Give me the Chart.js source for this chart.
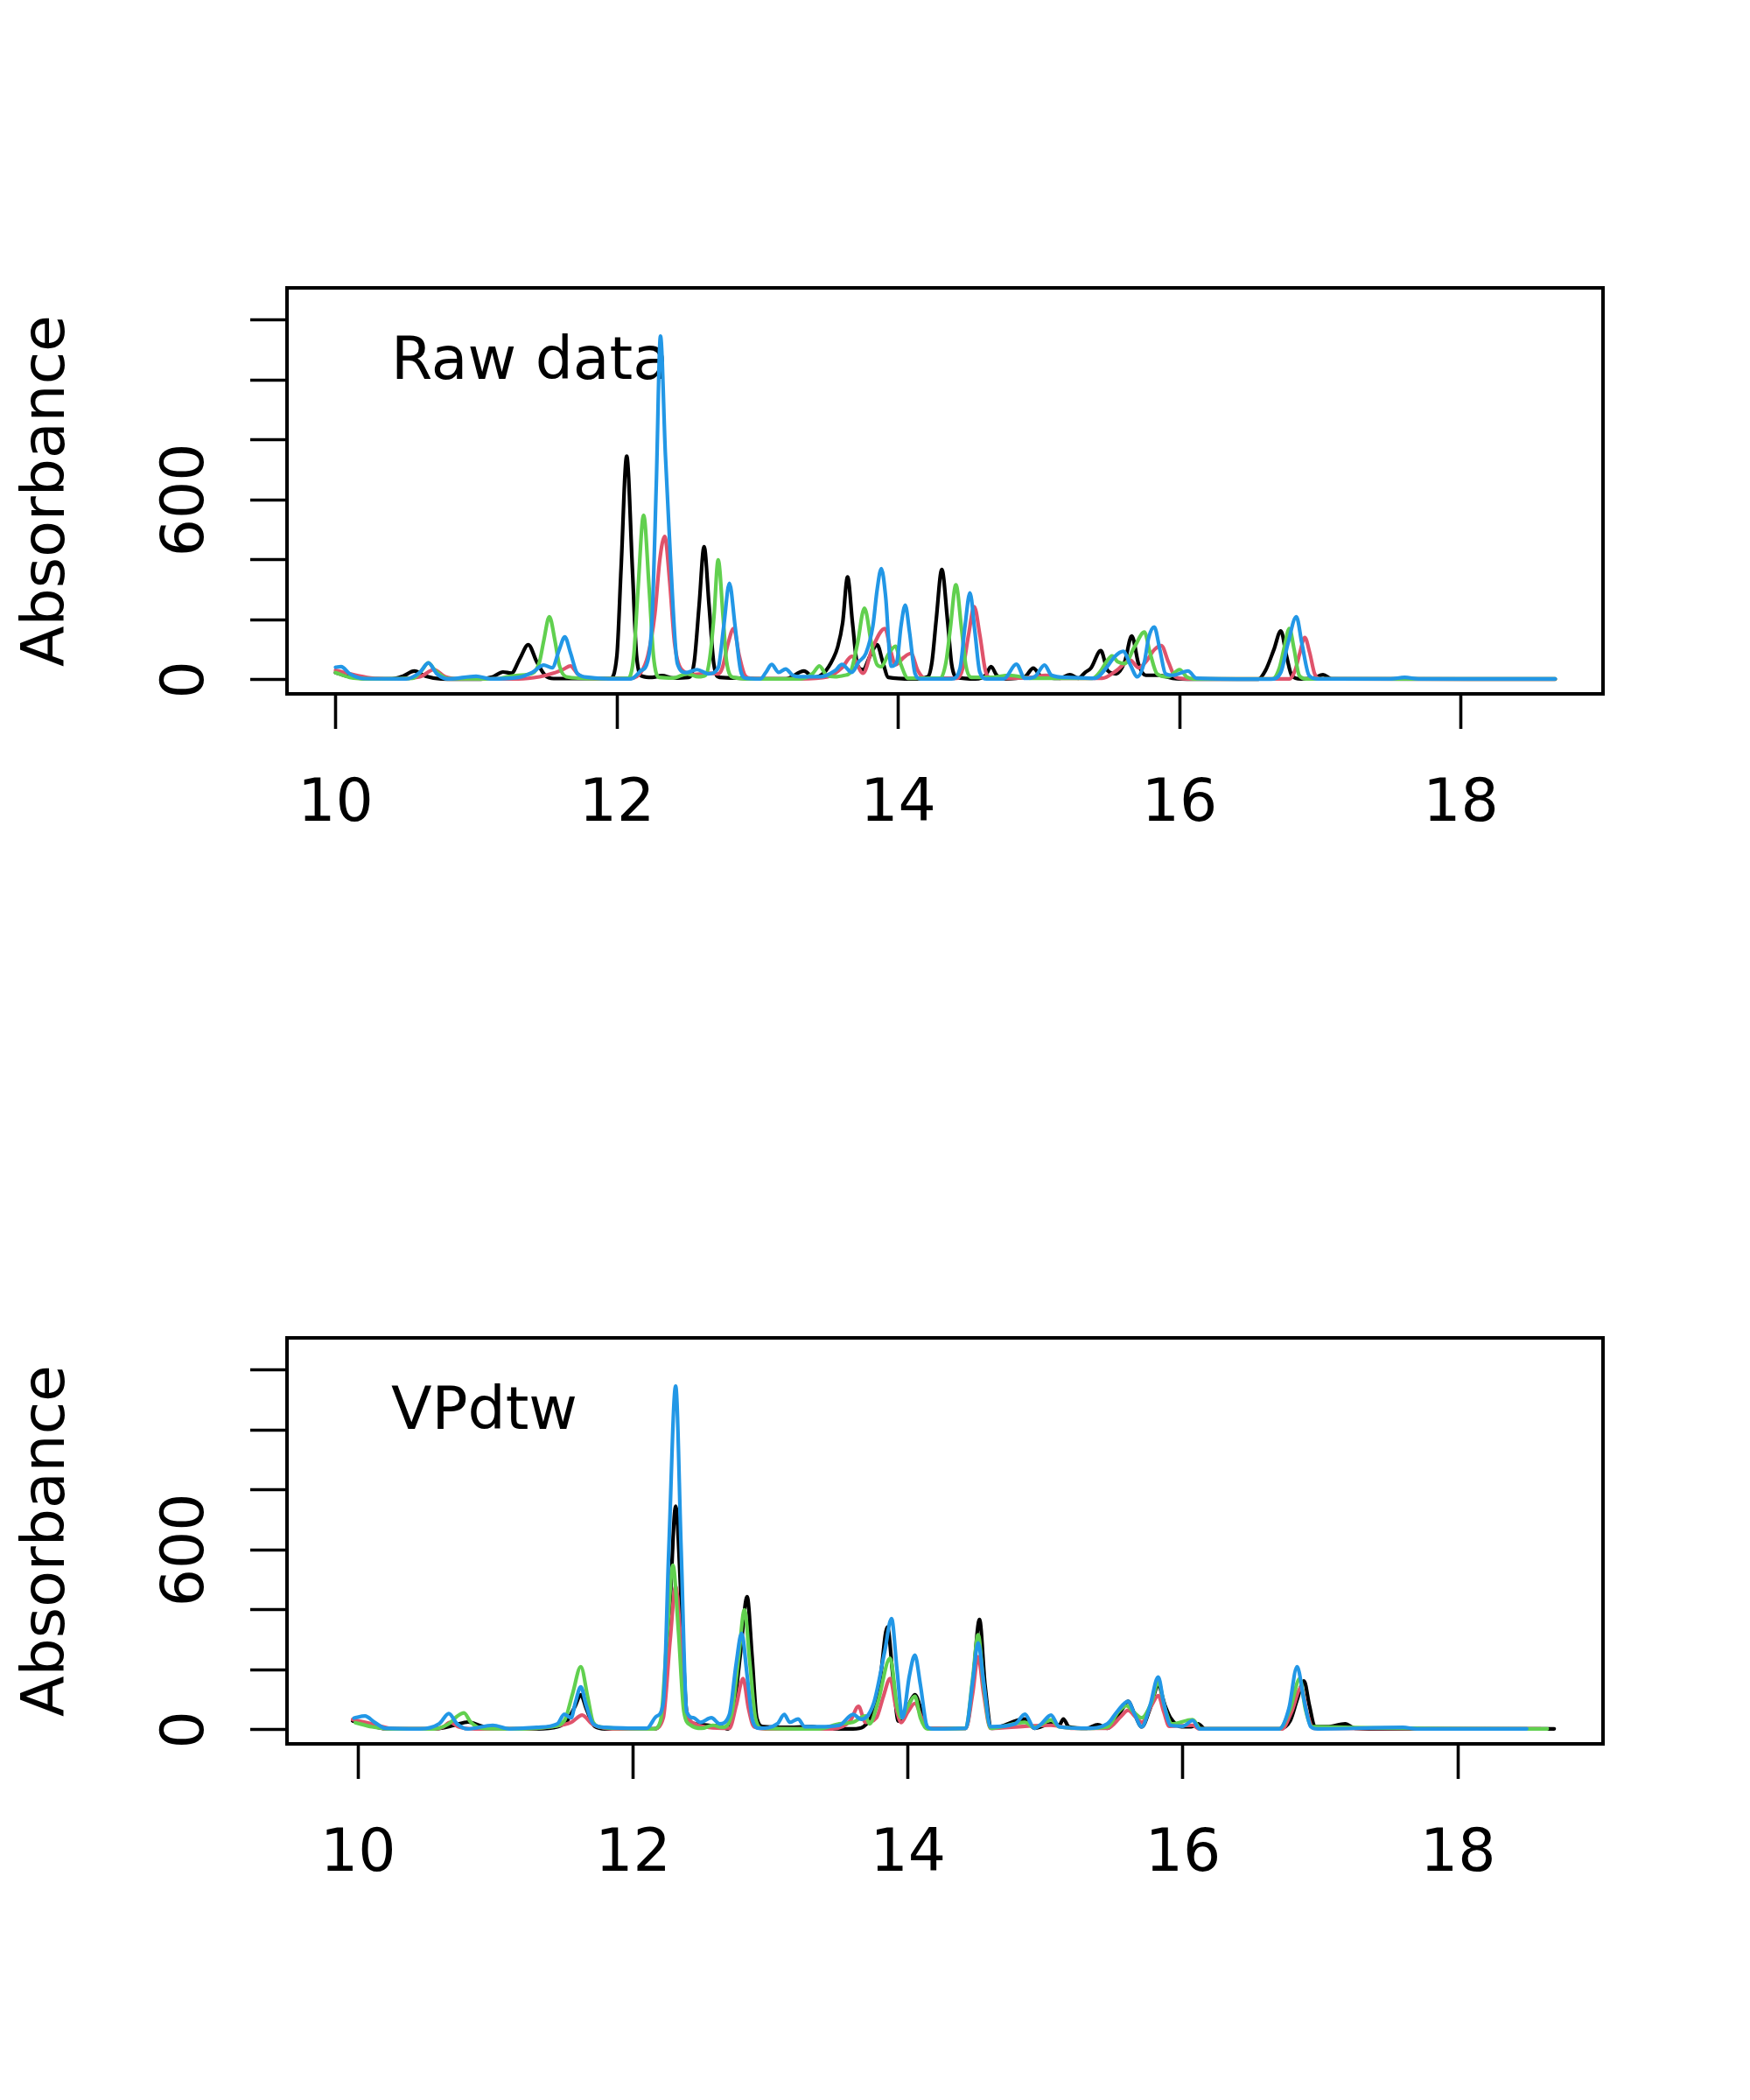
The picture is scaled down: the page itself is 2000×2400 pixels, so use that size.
<!DOCTYPE html>
<html>
<head>
<meta charset="utf-8">
<script src="https://cdn.jsdelivr.net/npm/chart.js@4.4.0/dist/chart.umd.min.js"></script>
<style>
  html, body { margin: 0; padding: 0; background: #fff; }
  #wrap { width: 2000px; height: 2400px; }
  canvas { display: block; }
</style>
</head>
<body>
<div id="wrap">
  <canvas id="rawChart" width="2000" height="1200"></canvas>
  <canvas id="vpdtwChart" width="2000" height="1200"></canvas>
</div>
<script>
// samples, in R palette order (black, red, green, blue)
const sampleNames = ['Sample 1', 'Sample 2', 'Sample 3', 'Sample 4'];
const sampleColors = ['#000000', '#DF536B', '#61D04F', '#2297E6'];
const panelTitles = ['Raw data', 'VPdtw'];
const xTicks = [10, 12, 14, 16, 18];
const yTicks = [0, 200, 400, 600, 800, 1000, 1200];
const yLabelled = [0, 600];
const yLim = [-47, 1307];
const rawXLim = [9.655, 19.01];
const vpdtwXLim = [9.483, 19.055];

// [retention time, absorbance]
const rawBlack = [[10.00,24],[10.08,12],[10.20,4],[10.40,3],[10.48,12],[10.56,29],[10.64,12],[10.75,3],[11.00,2],[11.12,10],[11.19,26],[11.25,22],[11.31,70],[11.37,117],[11.43,60],[11.49,15],[11.55,4],[11.95,4],[12.00,80],[12.03,373],[12.07,746],[12.11,373],[12.14,80],[12.18,12],[12.25,8],[12.32,14],[12.40,6],[12.51,8],[12.55,60],[12.585,250],[12.62,444],[12.655,250],[12.69,50],[12.73,8],[12.85,6],[13.00,3],[13.20,3],[13.33,29],[13.40,8],[13.47,22],[13.54,73],[13.57,110],[13.605,190],[13.64,343],[13.675,190],[13.71,50],[13.75,34],[13.80,80],[13.85,117],[13.89,60],[13.93,8],[14.10,3],[14.21,10],[14.24,60],[14.27,200],[14.31,368],[14.35,200],[14.38,51],[14.42,8],[14.55,3],[14.62,15],[14.66,44],[14.70,15],[14.75,3],[14.90,10],[14.96,39],[15.02,10],[15.15,5],[15.22,17],[15.28,5],[15.33,25],[15.37,39],[15.44,97],[15.49,30],[15.55,20],[15.61,60],[15.66,146],[15.71,50],[15.76,15],[15.85,15],[15.95,5],[16.10,2],[16.56,2],[16.61,30],[16.67,100],[16.72,163],[16.76,80],[16.80,12],[16.86,3],[16.95,5],[17.02,17],[17.08,3],[18.67,2]];
const rawRed = [[10.00,32],[10.10,20],[10.25,6],[10.40,3],[10.60,10],[10.70,34],[10.78,10],[10.90,3],[11.30,3],[11.45,10],[11.55,22],[11.62,35],[11.67,46],[11.72,20],[11.78,6],[12.10,5],[12.17,24],[12.22,80],[12.27,219],[12.305,400],[12.34,478],[12.375,330],[12.41,122],[12.46,34],[12.55,18],[12.65,22],[12.72,20],[12.75,40],[12.79,120],[12.83,171],[12.87,80],[12.91,15],[12.95,5],[13.30,3],[13.50,10],[13.60,40],[13.67,78],[13.75,22],[13.82,110],[13.905,171],[13.95,90],[13.98,50],[14.04,75],[14.09,88],[14.14,30],[14.19,5],[14.42,5],[14.46,40],[14.50,150],[14.54,244],[14.58,150],[14.62,30],[14.66,5],[14.95,8],[15.05,15],[15.15,5],[15.45,5],[15.55,30],[15.65,65],[15.71,40],[15.76,60],[15.82,100],[15.87,114],[15.92,60],[15.97,10],[16.05,3],[16.78,3],[16.82,30],[16.855,90],[16.89,141],[16.925,90],[16.96,20],[17.00,3],[18.67,3]];
const rawGreen = [[10.00,24],[10.10,8],[10.25,3],[10.55,5],[10.61,30],[10.66,56],[10.71,30],[10.80,4],[11.15,3],[11.22,10],[11.30,15],[11.40,22],[11.45,60],[11.48,130],[11.52,210],[11.56,130],[11.59,50],[11.64,10],[11.85,4],[12.08,5],[12.12,80],[12.15,300],[12.19,549],[12.23,300],[12.26,80],[12.30,8],[12.40,6],[12.50,20],[12.58,10],[12.63,15],[12.66,70],[12.69,210],[12.72,400],[12.755,210],[12.78,60],[12.83,8],[12.95,3],[13.30,3],[13.39,20],[13.44,46],[13.49,15],[13.55,10],[13.62,15],[13.66,25],[13.71,120],[13.76,239],[13.81,120],[13.85,50],[13.88,44],[13.93,85],[13.98,112],[14.02,50],[14.07,5],[14.30,5],[14.34,60],[14.37,170],[14.41,317],[14.45,170],[14.48,50],[14.52,8],[14.65,8],[14.79,15],[14.95,5],[15.10,5],[15.38,5],[15.44,30],[15.48,60],[15.52,80],[15.56,60],[15.61,54],[15.68,110],[15.75,159],[15.79,90],[15.84,20],[15.92,10],[16.00,34],[16.05,10],[16.10,3],[16.66,3],[16.71,40],[16.745,110],[16.78,171],[16.815,100],[16.85,15],[16.90,3],[18.67,3]];
const rawBlue = [[10.00,42],[10.04,44],[10.10,20],[10.20,4],[10.50,3],[10.60,25],[10.66,56],[10.72,20],[10.80,3],[11.00,12],[11.10,3],[11.30,8],[11.40,25],[11.48,49],[11.54,40],[11.59,100],[11.63,143],[11.67,90],[11.72,20],[11.80,8],[11.95,3],[12.10,3],[12.17,30],[12.22,63],[12.25,200],[12.28,650],[12.31,1146],[12.345,750],[12.38,414],[12.43,54],[12.49,24],[12.57,34],[12.65,20],[12.72,40],[12.76,180],[12.80,322],[12.84,180],[12.88,30],[12.92,5],[13.02,3],[13.06,25],[13.10,51],[13.15,25],[13.20,36],[13.25,15],[13.30,10],[13.45,10],[13.55,30],[13.60,51],[13.67,25],[13.72,60],[13.77,88],[13.82,180],[13.85,300],[13.88,371],[13.91,280],[13.95,45],[13.99,60],[14.02,180],[14.05,249],[14.08,160],[14.12,20],[14.16,3],[14.38,3],[14.44,40],[14.475,180],[14.51,290],[14.545,160],[14.58,25],[14.63,3],[14.75,3],[14.84,52],[14.90,5],[14.97,10],[15.04,49],[15.09,15],[15.20,8],[15.40,5],[15.48,40],[15.54,78],[15.60,95],[15.65,50],[15.70,10],[15.75,60],[15.78,140],[15.82,176],[15.86,100],[15.90,20],[15.95,15],[16.06,29],[16.12,5],[16.65,2],[16.72,25],[16.77,120],[16.83,210],[16.87,120],[16.92,15],[16.98,3],[17.50,3],[17.60,8],[17.70,3],[18.67,3]];

const vpBlack = [[9.96,30],[10.05,20],[10.20,4],[10.55,3],[10.70,15],[10.80,26],[10.90,12],[11.00,3],[11.30,3],[11.45,10],[11.52,30],[11.58,80],[11.62,117],[11.66,70],[11.72,12],[11.80,3],[12.15,3],[12.22,60],[12.27,430],[12.31,746],[12.35,430],[12.39,60],[12.45,20],[12.55,15],[12.65,10],[12.69,3],[12.73,60],[12.78,250],[12.83,444],[12.865,250],[12.90,40],[12.95,10],[13.10,8],[13.30,10],[13.40,3],[13.60,3],[13.75,60],[13.80,180],[13.85,343],[13.89,180],[13.93,29],[14.00,80],[14.05,117],[14.10,60],[14.15,5],[14.42,5],[14.47,150],[14.52,368],[14.56,150],[14.61,5],[14.85,36],[14.92,5],[15.04,20],[15.10,15],[15.13,36],[15.17,10],[15.30,5],[15.38,17],[15.45,5],[15.52,40],[15.56,70],[15.60,95],[15.65,50],[15.70,10],[15.76,70],[15.82,146],[15.87,80],[15.91,39],[15.99,10],[16.06,10],[16.11,20],[16.16,3],[16.70,3],[16.78,30],[16.83,100],[16.88,163],[16.92,80],[16.96,10],[17.05,10],[17.18,20],[17.25,5],[17.40,3],[18.70,3]];
const vpRed = [[9.96,34],[10.10,20],[10.25,4],[10.55,3],[10.62,10],[10.67,25],[10.73,10],[10.85,3],[11.20,3],[11.40,10],[11.55,25],[11.63,49],[11.70,20],[11.75,10],[11.85,3],[12.15,3],[12.22,40],[12.27,300],[12.31,478],[12.35,280],[12.39,60],[12.45,20],[12.55,8],[12.70,5],[12.75,80],[12.80,171],[12.84,70],[12.88,10],[13.00,3],[13.45,3],[13.58,30],[13.64,78],[13.69,25],[13.77,40],[13.82,110],[13.87,171],[13.91,80],[13.95,24],[14.00,60],[14.05,88],[14.10,40],[14.15,5],[14.42,5],[14.47,120],[14.51,244],[14.55,120],[14.60,5],[14.85,12],[15.04,15],[15.20,5],[15.45,5],[15.55,45],[15.60,65],[15.66,40],[15.70,25],[15.77,80],[15.82,114],[15.86,60],[15.90,12],[16.07,15],[16.12,3],[16.72,3],[16.79,60],[16.86,141],[16.90,60],[16.95,5],[18.60,3]];
const vpGreen = [[9.98,24],[10.10,10],[10.25,3],[10.55,3],[10.66,20],[10.72,45],[10.77,56],[10.82,25],[10.90,5],[11.20,3],[11.40,10],[11.50,30],[11.56,120],[11.62,210],[11.67,110],[11.71,25],[11.78,8],[11.90,5],[12.15,3],[12.20,30],[12.25,330],[12.29,549],[12.33,330],[12.37,60],[12.42,15],[12.50,5],[12.58,15],[12.65,8],[12.72,60],[12.77,250],[12.81,400],[12.85,220],[12.89,40],[12.94,5],[13.35,3],[13.50,20],[13.60,25],[13.69,46],[13.72,20],[13.78,90],[13.87,239],[13.92,80],[13.95,40],[14.00,80],[14.05,112],[14.09,40],[14.14,3],[14.42,5],[14.47,170],[14.51,317],[14.55,150],[14.60,5],[14.85,25],[14.92,8],[15.04,33],[15.10,10],[15.30,5],[15.45,10],[15.53,60],[15.59,80],[15.64,60],[15.70,40],[15.77,90],[15.82,159],[15.87,70],[15.92,20],[16.07,34],[16.13,3],[16.70,3],[16.78,70],[16.85,171],[16.89,70],[16.94,10],[18.65,3]];
const vpBlue = [[9.97,39],[10.05,46],[10.12,25],[10.20,5],[10.45,3],[10.59,20],[10.66,54],[10.72,20],[10.80,3],[10.98,15],[11.10,3],[11.30,8],[11.45,20],[11.50,52],[11.55,40],[11.58,90],[11.62,143],[11.66,80],[11.71,20],[11.80,8],[12.10,5],[12.17,45],[12.22,90],[12.26,600],[12.31,1146],[12.35,600],[12.39,60],[12.44,40],[12.49,25],[12.57,40],[12.63,20],[12.70,50],[12.75,220],[12.79,322],[12.83,180],[12.87,30],[12.92,5],[13.05,20],[13.10,51],[13.14,25],[13.20,36],[13.25,10],[13.35,10],[13.50,15],[13.60,51],[13.66,35],[13.75,88],[13.83,260],[13.88,371],[13.92,200],[13.96,40],[14.01,180],[14.05,249],[14.09,150],[14.14,10],[14.18,3],[14.42,5],[14.47,160],[14.51,290],[14.55,160],[14.60,10],[14.78,20],[14.85,52],[14.92,5],[14.97,20],[15.04,49],[15.10,10],[15.30,5],[15.45,20],[15.52,60],[15.60,95],[15.65,50],[15.70,10],[15.76,80],[15.82,176],[15.86,90],[15.91,15],[16.00,12],[16.07,31],[16.12,3],[16.70,3],[16.77,70],[16.83,210],[16.88,100],[16.93,10],[16.98,3],[17.60,8],[17.70,3],[18.50,3]];

Chart.defaults.font.family = '"DejaVu Sans"';
Chart.defaults.color = '#000';

// box around the plot region plus the panel caption
const panelFrame = {
  id: 'panelFrame',
  beforeDatasetsDraw(chart, args, opts) {
    const { ctx, chartArea: a } = chart;
    ctx.save();
    ctx.fillStyle = '#000';
    ctx.font = '68px "DejaVu Sans"';
    ctx.textAlign = 'left';
    ctx.textBaseline = 'alphabetic';
    ctx.fillText(opts.text, a.left + 119, a.top + 104);
    ctx.restore();
  },
  afterDatasetsDraw(chart) {
    const { ctx, chartArea: a } = chart;
    ctx.save();
    ctx.strokeStyle = '#000';
    ctx.lineWidth = 4;
    ctx.strokeRect(a.left, a.top, a.right - a.left, a.bottom - a.top);
    ctx.restore();
  }
};

function buildChart(canvasId, series, xLim, caption) {
  const datasets = series.map((pts, i) => ({
    label: sampleNames[i],
    data: pts.map(p => ({ x: p[0], y: p[1] })),
    borderColor: sampleColors[i],
    borderWidth: 4.2,
    borderCapStyle: 'round',
    borderJoinStyle: 'round',
    pointRadius: 0,
    fill: false,
    cubicInterpolationMode: 'monotone',
    order: series.length - i   // blue drawn last, on top
  }));

  return new Chart(document.getElementById(canvasId), {
    type: 'line',
    data: { datasets },
    options: {
      responsive: false,
      animation: false,
      devicePixelRatio: 1,
      layout: { padding: { left: 0, right: 168, top: 329, bottom: 0 } },
      plugins: {
        legend: { display: false },
        tooltip: { enabled: false },
        panelFrame: { text: caption }
      },
      scales: {
        x: {
          type: 'linear',
          min: xLim[0],
          max: xLim[1],
          afterBuildTicks: s => { s.ticks = xTicks.map(v => ({ value: v })); },
          afterFit: s => { s.height = 407; },
          border: { display: false },
          grid: { drawOnChartArea: false, drawTicks: true, tickLength: 40, tickWidth: 3.6, tickColor: '#000' },
          ticks: { autoSkip: false, maxRotation: 0, padding: 47, font: { size: 68 }, callback: v => String(v) }
        },
        y: {
          type: 'linear',
          min: yLim[0],
          max: yLim[1],
          afterBuildTicks: s => { s.ticks = yTicks.map(v => ({ value: v })); },
          afterFit: s => { s.width = 328; },
          border: { display: false },
          grid: { drawOnChartArea: false, drawTicks: true, tickLength: 42, tickWidth: 3.6, tickColor: '#000' },
          ticks: {
            autoSkip: false, minRotation: 90, maxRotation: 90, crossAlign: 'center', padding: 7,
            font: { size: 68 },
            callback: v => yLabelled.includes(v) ? String(v) : ''
          },
          title: { display: true, text: 'Absorbance', font: { size: 68 }, padding: { top: 15, bottom: 0 } }
        }
      }
    },
    plugins: [panelFrame]
  });
}

buildChart('rawChart', [rawBlack, rawRed, rawGreen, rawBlue], rawXLim, panelTitles[0]);
buildChart('vpdtwChart', [vpBlack, vpRed, vpGreen, vpBlue], vpdtwXLim, panelTitles[1]);
</script>
</body>
</html>
